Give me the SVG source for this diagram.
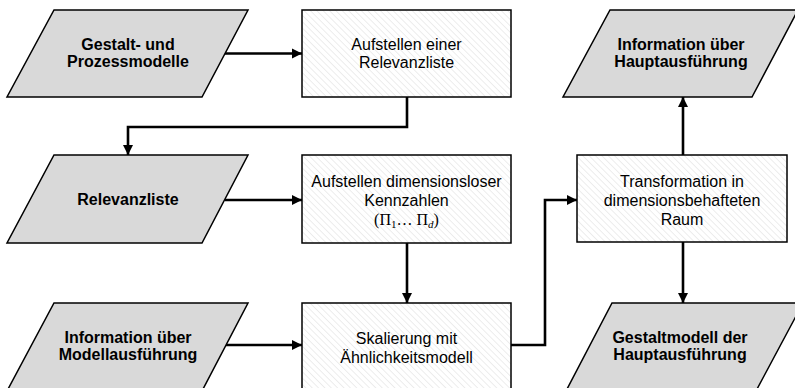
<svg xmlns="http://www.w3.org/2000/svg" width="795" height="388" viewBox="0 0 795 388">
  <defs>
    <!-- light diagonal hatching used inside the process boxes -->
    <pattern id="hatch" width="4.5" height="4.5" patternUnits="userSpaceOnUse" patternTransform="rotate(-45)">
      <rect width="4.5" height="4.5" fill="#ffffff"/>
      <line x1="0" y1="0" x2="0" y2="4.5" stroke="#e2e2e2" stroke-width="1.2"/>
    </pattern>
    <marker id="arrow" viewBox="0 0 10 10" refX="10" refY="5" markerWidth="4" markerHeight="4" markerUnits="strokeWidth" orient="auto">
      <path d="M0,0 L10,5 L0,10 z" fill="#000"/>
    </marker>
    <style>
      .io { fill: #d9d9d9; stroke: #000; stroke-width: 1.5; }
      .proc { fill: url(#hatch); stroke: #000; stroke-width: 1.5; }
      .bold { font-family: "Liberation Sans", Arial, sans-serif; font-weight: bold; font-size: 16px; text-anchor: middle; fill: #000; }
      .reg { font-family: "Liberation Sans", Arial, sans-serif; font-size: 16px; text-anchor: middle; fill: #000; }
      .math { font-family: "Liberation Serif", "DejaVu Serif", serif; font-size: 16px; text-anchor: middle; fill: #000; }
      .conn { fill: none; stroke: #000; stroke-width: 2.6; }
    </style>
  </defs>

  <!-- input/output data (parallelograms) -->
  <g id="gestalt-prozessmodelle">
    <polygon class="io" points="54,10 248,10 202,97 7,97"/>
    <text class="bold" x="128" y="50">Gestalt- und</text>
    <text class="bold" x="128" y="66.5">Prozessmodelle</text>
  </g>

  <g id="relevanzliste">
    <polygon class="io" points="54,155 248,155 202,243 7,243"/>
    <text class="bold" x="128" y="205">Relevanzliste</text>
  </g>

  <g id="info-modell">
    <polygon class="io" points="54,303 248,303 202,391 7,391"/>
    <text class="bold" x="128" y="343">Information über</text>
    <text class="bold" x="128" y="360">Modellausführung</text>
  </g>

  <g id="info-haupt">
    <polygon class="io" points="610,10 798,10 752,97 563,97"/>
    <text class="bold" x="681" y="50">Information über</text>
    <text class="bold" x="681" y="66.5">Hauptausführung</text>
  </g>

  <g id="gestaltmodell-haupt">
    <polygon class="io" points="612,303 803,303 756,391 566,391"/>
    <text class="bold" x="680" y="343">Gestaltmodell der</text>
    <text class="bold" x="680" y="360">Hauptausführung</text>
  </g>

  <!-- process steps (hatched boxes) -->
  <g id="aufstellen-relevanzliste">
    <rect class="proc" x="302" y="10" width="209" height="87"/>
    <text class="reg" x="406.5" y="50">Aufstellen einer</text>
    <text class="reg" x="406.5" y="68">Relevanzliste</text>
  </g>

  <g id="aufstellen-kennzahlen">
    <rect class="proc" x="302" y="155" width="209" height="88"/>
    <text class="reg" x="406.5" y="187">Aufstellen dimensionsloser</text>
    <text class="reg" x="406.5" y="206">Kennzahlen</text>
    <text class="math" x="406.5" y="225">(Π<tspan font-size="11" dy="3">1</tspan><tspan dy="-3">… Π</tspan><tspan font-size="11" font-style="italic" dy="3">d</tspan><tspan dy="-3">)</tspan></text>
  </g>

  <g id="skalierung">
    <rect class="proc" x="302" y="303" width="209" height="88"/>
    <text class="reg" x="406.5" y="343.5">Skalierung mit</text>
    <text class="reg" x="406.5" y="363">Ähnlichkeitsmodell</text>
  </g>

  <g id="transformation">
    <rect class="proc" x="577" y="155" width="210" height="87"/>
    <text class="reg" x="682" y="187">Transformation in</text>
    <text class="reg" x="682" y="206">dimensionsbehafteten</text>
    <text class="reg" x="682" y="225">Raum</text>
  </g>

  <!-- connectors -->
  <g id="connectors">
    <line class="conn" x1="225" y1="53.5" x2="302" y2="53.5" marker-end="url(#arrow)"/>
    <polyline class="conn" points="407,97 407,127 128,127 128,155" marker-end="url(#arrow)"/>
    <line class="conn" x1="225" y1="200" x2="302" y2="200" marker-end="url(#arrow)"/>
    <line class="conn" x1="407" y1="243" x2="407" y2="303" marker-end="url(#arrow)"/>
    <line class="conn" x1="226" y1="345" x2="302" y2="345" marker-end="url(#arrow)"/>
    <polyline class="conn" points="511,345 545,345 545,200 577,200" marker-end="url(#arrow)"/>
    <line class="conn" x1="683" y1="155" x2="683" y2="97" marker-end="url(#arrow)"/>
    <line class="conn" x1="683" y1="242" x2="683" y2="303" marker-end="url(#arrow)"/>
  </g>
</svg>
